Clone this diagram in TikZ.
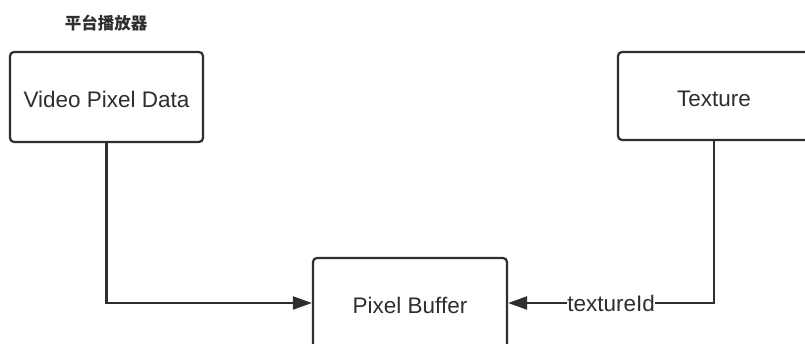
\documentclass[tikz,border=0pt]{standalone}
\usepackage{fontspec}
\setmainfont{Liberation Sans}
\newfontfamily\cjk{Noto Sans CJK SC}
\usetikzlibrary{arrows.meta}
\definecolor{ink}{HTML}{2E2E2E}
\begin{document}
\begin{tikzpicture}[x=1pt,y=-1pt,
  box/.style={draw=ink, line width=2.2pt, rounded corners=4pt, fill=white,
    inner sep=0pt, text height=21pt, text depth=0pt, text=ink,
    font=\fontsize{22.5}{27}\selectfont},
  conn/.style={draw=ink, line width=2.2pt, -{Triangle[length=19pt,width=13pt]}},
  lbl/.style={fill=white, inner sep=0.5pt, text=ink, font=\fontsize{22.5}{27}\selectfont}
]
\useasboundingbox (0,0) rectangle (805,344);
\clip (0,0) rectangle (805,344);
\fill[white] (0,0) rectangle (805,344);
\node[text=ink, font=\cjk\bfseries\fontsize{16.5}{19}\selectfont] (title) at (106,23) {平台播放器};
\node[box, minimum width=193pt, minimum height=90pt] (vpd) at (106.5,97) {Video Pixel Data};
\node[box, minimum width=192pt, minimum height=88pt] (tex) at (714,96) {Texture};
\node[box, minimum width=194pt, minimum height=90pt] (pb) at (410,303) {Pixel Buffer};
\draw[conn] (vpd.south) |- (pb.west);
\draw[conn] (tex.south) |- node[lbl, pos=0.75] (tid) {textureId} (pb.east);
\end{tikzpicture}
\end{document}
